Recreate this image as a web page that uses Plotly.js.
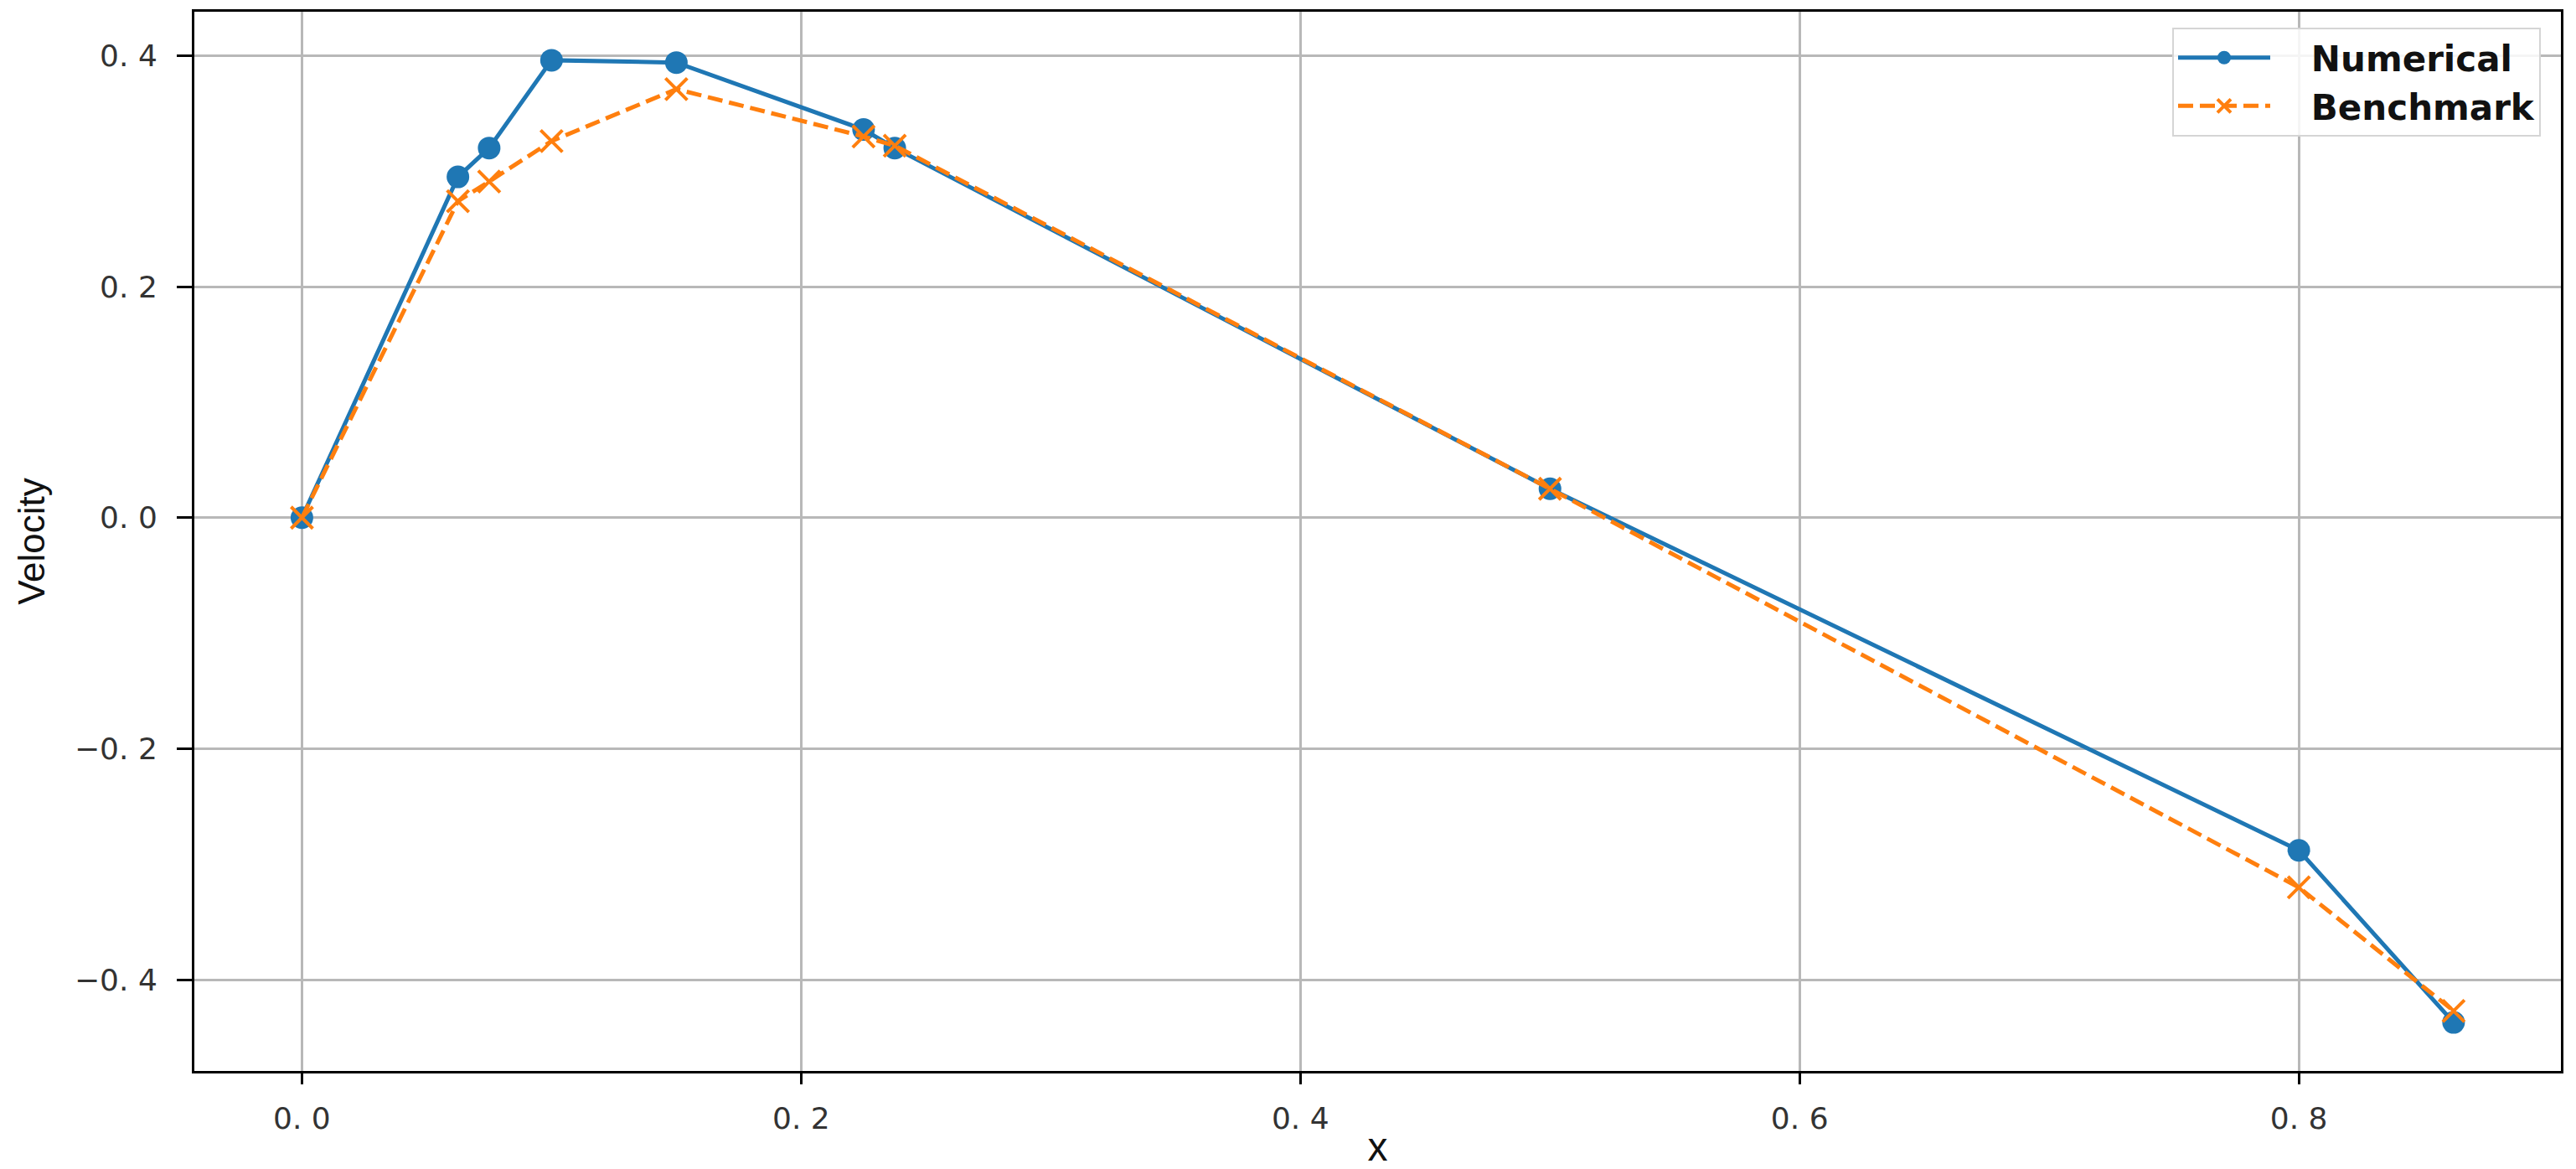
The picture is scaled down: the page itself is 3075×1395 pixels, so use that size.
<!DOCTYPE html>
<html>
<head>
<meta charset="utf-8">
<script src="https://cdn.plot.ly/plotly-3.0.1.min.js"></script>
<style>html,body{margin:0;padding:0;background:#fff;}#chart{width:3075px;height:1395px;}</style>
</head>
<body>
<div id="chart"></div>
<script>
const xNumerical = [0, 0.0625, 0.075, 0.1, 0.15, 0.225, 0.2375, 0.5, 0.8, 0.862];
const yNumerical = [0, 0.295, 0.320, 0.396, 0.394, 0.336, 0.320, 0.025, -0.288, -0.437];
const xBenchmark = [0, 0.0625, 0.075, 0.1, 0.15, 0.225, 0.2375, 0.5, 0.8, 0.862];
const yBenchmark = [0, 0.274, 0.291, 0.326, 0.371, 0.330, 0.322, 0.025, -0.320, -0.427];
const seriesNames = ["Numerical", "Benchmark"];
const xTickVals = [0, 0.2, 0.4, 0.6, 0.8];
const xTickText = ["0. 0", "0. 2", "0. 4", "0. 6", "0. 8"];
const yTickVals = [-0.4, -0.2, 0, 0.2, 0.4];
const yTickText = ["\u22120. 4", "\u22120. 2", "0. 0", "0. 2", "0. 4"];

const pad = "\u00a0\u00a0\u00a0";
const traces = [
  {
    x: xNumerical, y: yNumerical, name: pad + seriesNames[0], type: "scatter", mode: "lines+markers",
    line: {color: "#1f77b4", width: 5},
    marker: {color: "#1f77b4", size: 27, symbol: "circle"}
  },
  {
    x: xBenchmark, y: yBenchmark, name: pad + seriesNames[1], type: "scatter", mode: "lines+markers",
    line: {color: "#ff7f0e", width: 5, dash: "18px,8px"},
    marker: {color: "#ff7f0e", size: 26, symbol: "x-thin", line: {color: "#ff7f0e", width: 4}}
  }
];

const axisCommon = {
  showline: true, mirror: true, linecolor: "#000", linewidth: 3,
  showgrid: true, gridcolor: "#b8b8b8", gridwidth: 3,
  zeroline: false, ticks: "outside", tickcolor: "#000", tickwidth: 3,
  tickfont: {family: "DejaVu Sans", size: 36, color: "#333"}
};

const layout = {
  width: 3075, height: 1395,
  margin: {l: 232, r: 18, t: 14, b: 117},
  paper_bgcolor: "#fff", plot_bgcolor: "#fff",
  showlegend: true,
  xaxis: Object.assign({}, axisCommon, {
    range: [-0.0431, 0.905], tickvals: xTickVals, ticktext: xTickText,
    ticklen: 13, ticklabelstandoff: 10,
    title: {text: "x", font: {family: "Liberation Sans", size: 48, color: "#111"}, standoff: 0}
  }),
  yaxis: Object.assign({}, axisCommon, {
    range: [-0.479, 0.438], tickvals: yTickVals, ticktext: yTickText,
    ticklen: 18, ticklabelstandoff: 16,
    title: {text: "Velocity", font: {family: "Liberation Sans", size: 44, color: "#111"}, standoff: 22}
  }),
  legend: {
    x: 0.9915, y: 0.985, xanchor: "right", yanchor: "top",
    bgcolor: "rgba(255,255,255,0.85)", bordercolor: "#d5d5d5", borderwidth: 2,
    font: {family: "DejaVu Sans", size: 42, color: "#111", weight: 700},
    itemwidth: 110, tracegroupgap: 0
  }
};

Plotly.newPlot("chart", traces, layout, {displayModeBar: false, staticPlot: true});
</script>
</body>
</html>
